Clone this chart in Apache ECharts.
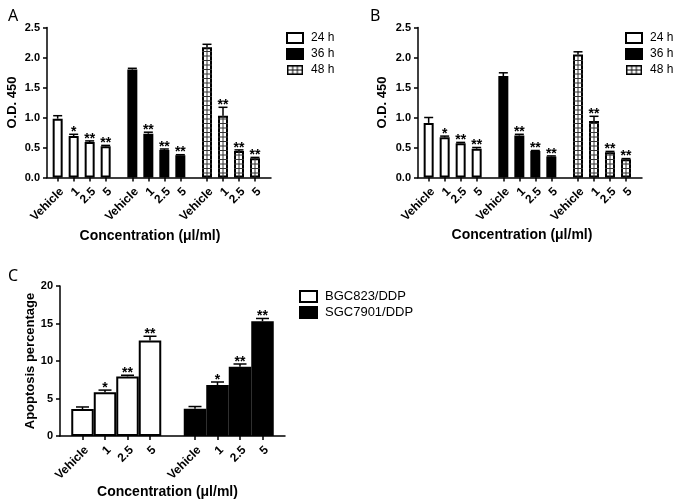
<!DOCTYPE html>
<html><head><meta charset="utf-8">
<script src="https://cdn.jsdelivr.net/npm/echarts@6/dist/echarts.min.js"></script>
<style>html,body{margin:0;padding:0;background:#fff}#c{width:677px;height:501px}</style>
</head><body><div id="c"></div>
<script>
// ---------------- data ----------------
const concLabels = ['Vehicle', '1', '2.5', '5'];
const timeNames = ['24 h', '36 h', '48 h'];
const cellNames = ['BGC823/DDP', 'SGC7901/DDP'];
const odTicks = [0, 0.5, 1.0, 1.5, 2.0, 2.5];
const apoTicks = [0, 5, 10, 15, 20];

// Panel A
const a24 = [0.98, 0.69, 0.59, 0.52];
const a24Err = [0.05, 0.03, 0.02, 0.015];
const a36 = [1.80, 0.73, 0.46, 0.37];
const a36Err = [0.02, 0.025, 0.015, 0.01];
const a48 = [2.17, 1.03, 0.44, 0.32];
const a48Err = [0.05, 0.14, 0.02, 0.015];
// Panel B
const b24 = [0.91, 0.67, 0.57, 0.48];
const b24Err = [0.09, 0.02, 0.015, 0.02];
const b36 = [1.69, 0.70, 0.44, 0.35];
const b36Err = [0.055, 0.02, 0.01, 0.01];
const b48 = [2.05, 0.94, 0.42, 0.305];
const b48Err = [0.045, 0.08, 0.015, 0.01];
// Panel C
const cBgc = [3.6, 5.85, 7.95, 12.75];
const cBgcErr = [0.27, 0.27, 0.15, 0.55];
const cSgc = [3.65, 6.8, 9.25, 15.3];
const cSgcErr = [0.28, 0.4, 0.35, 0.37];

// significance marks
const stars24 = ['', '*', '**', '**'];
const stars36 = ['', '**', '**', '**'];
const stars48 = ['', '**', '**', '**'];
const starsBgc = ['', '*', '**', '**'];
const starsSgc = ['', '*', '**', '**'];

// ---------------- layout helpers ----------------
function buildLayout(nGroups, lead, step, gap, tail) {
  const pos = []; let idx = lead;
  for (let g = 0; g < nGroups; g++) {
    const gp = [];
    for (let i = 0; i < concLabels.length; i++) { gp.push(idx); if (i < concLabels.length - 1) idx += step; }
    pos.push(gp); idx += gap;
  }
  const last = pos[nGroups - 1][concLabels.length - 1];
  const n = last + tail + 1;
  const cats = [], labels = [], isBar = [];
  for (let i = 0; i < n; i++) { cats.push('c' + i); labels.push(''); isBar.push(false); }
  pos.forEach(gp => gp.forEach((p, i) => { labels[p] = concLabels[i]; isBar[p] = true; }));
  return { pos, cats, labels, isBar, n };
}
const layAB = buildLayout(3, 2, 3, 5, 3);
const layC = buildLayout(2, 1, 1, 2, 1);

function fullArr(lay, g, vals) {
  const arr = new Array(lay.n).fill(null);
  lay.pos[g].forEach((p, i) => { arr[p] = vals[i]; });
  return arr;
}

const FONT = 'Liberation Sans, Arial, sans-serif';

function xAxisFor(lay, gridIndex, nameGap, namePad) {
  return {
    type: 'category', gridIndex, data: lay.cats, boundaryGap: false,
    name: 'Concentration (μl/ml)', nameLocation: 'middle', nameGap,
    nameTextStyle: { fontFamily: FONT, fontWeight: 'bold', fontSize: 14, color: '#000', padding: [0, namePad, 0, 0] },
    axisLine: { show: true, lineStyle: { color: '#000', width: 1.5 } },
    axisTick: { show: true, length: 4, inside: false, interval: (i) => lay.isBar[i], lineStyle: { color: '#000', width: 1.5 } },
    axisLabel: {
      interval: 0, rotate: 45, margin: 8, verticalAlign: 'top', color: '#000', fontFamily: FONT, fontWeight: 'bold', fontSize: 12,
      formatter: (v, i) => lay.labels[i]
    },
    splitLine: { show: false }
  };
}
function yAxisFor(gridIndex, max, interval, name, nameGap, decimals, fs) {
  return {
    type: 'value', gridIndex, min: 0, max, interval,
    name, nameLocation: 'middle', nameGap,
    nameTextStyle: { fontFamily: FONT, fontWeight: 'bold', fontSize: 13, color: '#000' },
    axisLine: { show: true, lineStyle: { color: '#000', width: 1.5 } },
    axisTick: { show: true, length: 4, lineStyle: { color: '#000', width: 1.5 } },
    axisLabel: { color: '#000', fontFamily: FONT, fontWeight: 'bold', fontSize: fs, margin: 7,
      formatter: v => v.toFixed(decimals) },
    splitLine: { show: false }
  };
}

function barSeries(name, lay, g, vals, axisIdx, fill, width) {
  return {
    type: 'bar', name, xAxisIndex: axisIdx, yAxisIndex: axisIdx, stack: 'p' + axisIdx,
    barWidth: width, data: fullArr(lay, g, vals),
    itemStyle: { color: fill, borderColor: '#000', borderWidth: 2 },
    emphasis: { disabled: true }, z: 2
  };
}
function errSeries(name, lay, g, vals, errs, stars, axisIdx, capW, starFs) {
  return {
    type: 'custom', name, xAxisIndex: axisIdx, yAxisIndex: axisIdx, silent: true, z: 4,
    encode: { x: 0, y: 1 },
    data: lay.pos[g].map((p, i) => [p, vals[i], errs[i]]),
    renderItem: function (params, api) {
      const x = api.value(0), v = api.value(1), e = api.value(2);
      const p0 = api.coord([x, v]), p1 = api.coord([x, v + e]);
      const children = [
        { type: 'line', shape: { x1: p0[0], y1: p0[1], x2: p1[0], y2: p1[1] }, style: { stroke: '#000', lineWidth: 1.5 } },
        { type: 'line', shape: { x1: p1[0] - capW / 2, y1: p1[1], x2: p1[0] + capW / 2, y2: p1[1] }, style: { stroke: '#000', lineWidth: 1.5 } }
      ];
      const s = stars[params.dataIndex];
      if (s) children.push({ type: 'text', style: { text: s, x: p1[0], y: p1[1] - starFs * 0.65, align: 'center', verticalAlign: 'top', font: 'bold ' + starFs + 'px ' + FONT, fill: '#000' } });
      return { type: 'group', children };
    }
  };
}
function gridPatternSeries(name, lay, g, vals, axisIdx, halfW) {
  return {
    type: 'custom', name, xAxisIndex: axisIdx, yAxisIndex: axisIdx, silent: true, z: 3,
    encode: { x: 0, y: 1 },
    data: lay.pos[g].map((p, i) => [p, vals[i]]),
    renderItem: function (params, api) {
      const x = api.value(0), v = api.value(1);
      const pb = api.coord([x, 0]), pt = api.coord([x, v]);
      const ch = [{ type: 'line', shape: { x1: pb[0], y1: pb[1], x2: pt[0], y2: pt[1] }, style: { stroke: '#333', lineWidth: 1 } }];
      for (let y = pb[1] - 4.5; y > pt[1] + 1.5; y -= 4.5) {
        ch.push({ type: 'line', shape: { x1: pb[0] - halfW, y1: y, x2: pb[0] + halfW, y2: y }, style: { stroke: '#333', lineWidth: 1 } });
      }
      return { type: 'group', children: ch };
    }
  };
}

// legend icon for grid-patterned bars
function gridIcon() {
  const cv = document.createElement('canvas'); cv.width = 34; cv.height = 20;
  const ctx = cv.getContext('2d');
  ctx.fillStyle = '#fff'; ctx.fillRect(0, 0, 34, 20);
  ctx.strokeStyle = '#000'; ctx.lineWidth = 3; ctx.strokeRect(1.5, 1.5, 31, 17);
  ctx.lineWidth = 2;
  [12, 22].forEach(x => { ctx.beginPath(); ctx.moveTo(x, 2); ctx.lineTo(x, 18); ctx.stroke(); });
  ctx.beginPath(); ctx.moveTo(2, 10); ctx.lineTo(32, 10); ctx.stroke();
  return 'image://' + cv.toDataURL();
}
const gIcon = gridIcon();

function legendFor(left, top, names, icons, iw, ih, gap, fs) {
  return {
    left, top, orient: 'vertical', itemWidth: iw, itemHeight: ih, itemGap: gap, padding: 0,
    selectedMode: false,
    itemStyle: { borderColor: '#000', borderWidth: 2 },
    textStyle: { fontFamily: FONT, fontSize: fs, color: '#000', padding: [0, 0, 0, 3] },
    data: names.map((n, i) => ({ name: n, icon: icons[i] }))
  };
}

const chart = echarts.init(document.getElementById('c'), null, { renderer: 'canvas' });
const BW = 10;
const series = [
  // Panel A
  barSeries(timeNames[0], layAB, 0, a24, 0, '#fff', BW),
  barSeries(timeNames[1], layAB, 1, a36, 0, '#000', BW),
  barSeries(timeNames[2], layAB, 2, a48, 0, '#fff', BW),
  gridPatternSeries(timeNames[2], layAB, 2, a48, 0, BW / 2),
  errSeries(timeNames[0], layAB, 0, a24, a24Err, stars24, 0, 9, 14),
  errSeries(timeNames[1], layAB, 1, a36, a36Err, stars36, 0, 9, 14),
  errSeries(timeNames[2], layAB, 2, a48, a48Err, stars48, 0, 9, 14),
  // Panel B
  barSeries(timeNames[0], layAB, 0, b24, 1, '#fff', BW),
  barSeries(timeNames[1], layAB, 1, b36, 1, '#000', BW),
  barSeries(timeNames[2], layAB, 2, b48, 1, '#fff', BW),
  gridPatternSeries(timeNames[2], layAB, 2, b48, 1, BW / 2),
  errSeries(timeNames[0], layAB, 0, b24, b24Err, stars24, 1, 9, 14),
  errSeries(timeNames[1], layAB, 1, b36, b36Err, stars36, 1, 9, 14),
  errSeries(timeNames[2], layAB, 2, b48, b48Err, stars48, 1, 9, 14),
  // Panel C
  barSeries(cellNames[0], layC, 0, cBgc, 2, '#fff', '100%'),
  barSeries(cellNames[1], layC, 1, cSgc, 2, '#000', '100%'),
  errSeries(cellNames[0], layC, 0, cBgc, cBgcErr, starsBgc, 2, 13, 14),
  errSeries(cellNames[1], layC, 1, cSgc, cSgcErr, starsSgc, 2, 13, 14)
];

chart.setOption({
  animation: false,
  backgroundColor: '#fff',
  title: [
    { text: 'A', left: 3, top: 3, textStyle: { fontFamily: 'Noto Sans', fontWeight: 'normal', fontSize: 16, color: '#000' } },
    { text: 'B', left: 365, top: 3, textStyle: { fontFamily: 'Noto Sans', fontWeight: 'normal', fontSize: 16, color: '#000' } },
    { text: 'C', left: 3, top: 263, textStyle: { fontFamily: 'Noto Sans', fontWeight: 'normal', fontSize: 16, color: '#000' } }
  ],
  legend: [
    legendFor(286, 32, timeNames, ['rect', 'rect', gIcon], 16, 10, 4, 12),
    legendFor(625, 32, timeNames, ['rect', 'rect', gIcon], 16, 10, 4, 12),
    legendFor(299, 290, cellNames, ['rect', 'rect'], 17, 11, 3, 13)
  ],
  grid: [
    { left: 47, top: 27.5, width: 224, height: 150 },
    { left: 418, top: 27.5, width: 224, height: 150 },
    { left: 60, top: 286, width: 225, height: 150 }
  ],
  xAxis: [xAxisFor(layAB, 0, 52, 18), xAxisFor(layAB, 1, 51, 16), xAxisFor(layC, 2, 43, 10)],
  yAxis: [
    yAxisFor(0, 2.5, 0.5, 'O.D. 450', 28, 1, 11),
    yAxisFor(1, 2.5, 0.5, 'O.D. 450', 29, 1, 11),
    yAxisFor(2, 20, 5, 'Apoptosis percentage', 22, 0, 11)
  ],
  series
});
</script></body></html>
